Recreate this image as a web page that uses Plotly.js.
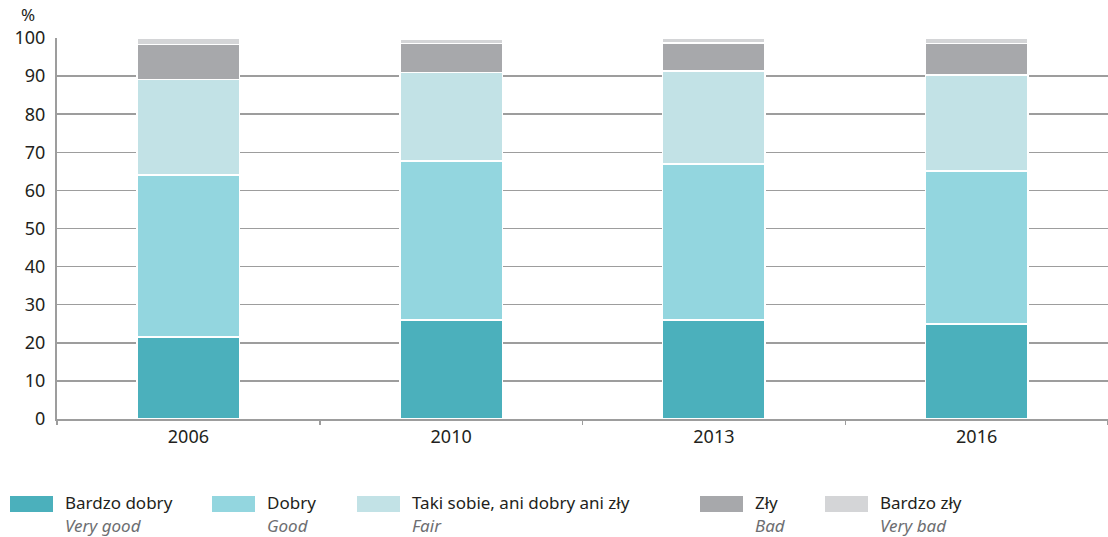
<!DOCTYPE html>
<html>
<head>
<meta charset="utf-8">
<script src="https://cdn.plot.ly/plotly-3.0.1.min.js"></script>
<style>html,body{margin:0;padding:0;background:#fff;}#chart{width:1108px;height:537px;}</style>
</head>
<body>
<div id="chart"></div>
<script>
// Data
const years = ["2006", "2010", "2013", "2016"];
const seriesNamesPl = ["Bardzo dobry", "Dobry", "Taki sobie, ani dobry ani zły", "Zły", "Bardzo zły"];
const seriesNamesEn = ["Very good", "Good", "Fair", "Bad", "Very bad"];
const veryGood = [21.5, 26.0, 26.0, 24.9];
const good = [42.5, 41.7, 40.9, 40.2];
const fair = [25.1, 23.3, 24.4, 25.2];
const bad = [9.2, 7.6, 7.4, 8.3];
const veryBad = [1.7, 1.2, 1.3, 1.4];
const yTicks = [0, 10, 20, 30, 40, 50, 60, 70, 80, 90, 100];

const values = [veryGood, good, fair, bad, veryBad];
const colors = ["#4BB0BC", "#93D6DF", "#C2E2E6", "#A7A8AB", "#D4D5D7"];
const FONT = "Noto Sans, Open Sans, sans-serif";

const traces = values.map((v, i) => ({
  type: "bar",
  x: years,
  y: v,
  name: seriesNamesPl[i],
  marker: {color: colors[i], line: {color: "#ffffff", width: 1.5}},
  width: 0.39,
  hoverinfo: "y+name"
}));

// Plot geometry (pixels)
const W = 1108, H = 537;
const mL = 57, mR = 0, mT = 38, mB = 118;
const pw = W - mL - mR, ph = H - mT - mB;
const px = x => (x - mL) / pw;
const py = y => (H - mB - y) / ph;

const legendSwatchX = [10, 212, 357, 700, 825];
const shapes = [];
const annotations = [];
legendSwatchX.forEach((sx, i) => {
  shapes.push({type: "rect", xref: "paper", yref: "paper",
    x0: px(sx), x1: px(sx + 43), y0: py(512), y1: py(496),
    fillcolor: colors[i], line: {width: 0}});
  annotations.push({xref: "paper", yref: "paper", x: px(sx + 53), y: py(502),
    xanchor: "left", yanchor: "middle", showarrow: false,
    text: seriesNamesPl[i], font: {family: FONT, size: 17, color: "#231F20"}});
  annotations.push({xref: "paper", yref: "paper", x: px(sx + 53), y: py(525),
    xanchor: "left", yanchor: "middle", showarrow: false,
    text: "<i>" + seriesNamesEn[i] + "</i>", font: {family: FONT, size: 17, color: "#6D6E71"}});
});
annotations.push({xref: "paper", yref: "paper", x: px(28), y: py(15),
  xanchor: "center", yanchor: "middle", showarrow: false,
  text: "%", font: {family: FONT, size: 17, color: "#231F20"}});

const layout = {
  width: W, height: H,
  margin: {l: mL, r: mR, t: mT, b: mB, pad: 0},
  barmode: "stack",
  showlegend: false,
  paper_bgcolor: "#ffffff",
  plot_bgcolor: "#ffffff",
  font: {family: FONT, size: 18, color: "#231F20"},
  xaxis: {
    type: "category",
    range: [-0.5, 3.5],
    showgrid: false,
    showline: true, linecolor: "#9D9D9D", linewidth: 2,
    ticks: "outside", tickson: "boundaries", ticklen: 4, tickcolor: "#9D9D9D", tickwidth: 1.5,
    tickfont: {family: FONT, size: 18, color: "#231F20"},
    fixedrange: true
  },
  yaxis: {
    range: [0, 100],
    tickvals: yTicks,
    ticktext: yTicks.map(String),
    showgrid: true, gridcolor: "#9D9D9D", gridwidth: 1.5,
    zeroline: false,
    showline: true, linecolor: "#9D9D9D", linewidth: 2,
    ticks: "", ticklabelstandoff: 6,
    tickfont: {family: FONT, size: 18, color: "#231F20"},
    fixedrange: true
  },
  shapes: shapes,
  annotations: annotations
};

Plotly.newPlot("chart", traces, layout, {displayModeBar: false, staticPlot: true});
</script>
</body>
</html>
